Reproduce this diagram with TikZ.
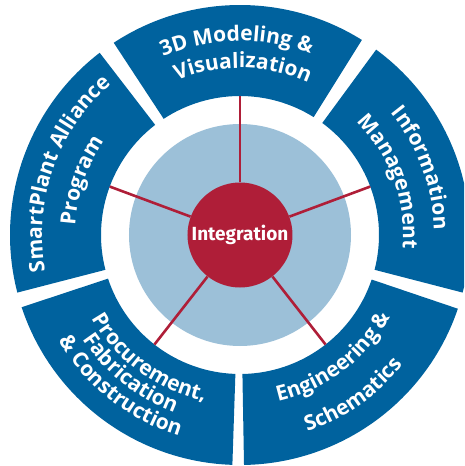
\documentclass[tikz,border=0pt]{standalone}
\usepackage{fontspec}
\setmainfont{Open Sans}
\newfontfamily\hubfont{Fira Sans}
\usetikzlibrary{decorations.text}
\definecolor{ringblue}{RGB}{0,98,158}
\definecolor{discblue}{RGB}{156,192,216}
\definecolor{hubred}{RGB}{175,30,56}
\newcommand{\segfont}{\bfseries\fontsize{21}{21}\selectfont}

\begin{document}
\begin{tikzpicture}[x=1pt,y=1pt,
  seg/.style={fill=ringblue},
  spoke/.style={draw=hubred,line width=2.6pt},
  hub/.style={circle,fill=hubred,minimum size=105pt,inner sep=0pt,text=white,
    font=\hubfont\bfseries\fontsize{19}{19}\selectfont},
  seglabel/.style={decorate,decoration={text along path,text align=center,text color=white}}]
\clip (-240,-231) rectangle (224,235);
% ring segments
\fill[seg] (58:139) arc[start angle=58,end angle=123.3,radius=139] -- (123.3:230) arc[start angle=123.3,end angle=58,radius=230] -- cycle;
\fill[seg] (127.6:139) arc[start angle=127.6,end angle=194.5,radius=139] -- (194.5:230) arc[start angle=194.5,end angle=127.6,radius=230] -- cycle;
\fill[seg] (198.3:139) arc[start angle=198.3,end angle=268.1,radius=139] -- (268.1:230) arc[start angle=268.1,end angle=198.3,radius=230] -- cycle;
\fill[seg] (271:139) arc[start angle=271,end angle=341.3,radius=139] -- (341.3:230) arc[start angle=341.3,end angle=271,radius=230] -- cycle;
\fill[seg] (-14.5:139) arc[start angle=-14.5,end angle=53.7,radius=139] -- (53.7:230) arc[start angle=53.7,end angle=-14.5,radius=230] -- cycle;
% inner disc and hub
\fill[discblue] (0,0) circle (111);
\node[hub] (integ) at (0,0) {Integration};
\coordinate (c3d) at (90:139);
\coordinate (cinfo) at (20.4:139);
\coordinate (ceng) at (-52:139);
\coordinate (cproc) at (232:139);
\coordinate (csmart) at (159.6:139);
\draw[spoke] (integ) -- (c3d);
\draw[spoke] (integ) -- (cinfo);
\draw[spoke] (integ) -- (ceng);
\draw[spoke] (integ) -- (cproc);
\draw[spoke] (integ) -- (csmart);
% segment texts
\path[seglabel,decoration={text={|\segfont|3D Modeling {\&}}}] (151:194) arc[start angle=151,end angle=31,radius=194];
\path[seglabel,decoration={text={|\segfont|Visualization}}] (149:167) arc[start angle=149,end angle=29,radius=167];
\path[seglabel,decoration={text={|\segfont|SmartPlant Alliance}}] (220.5:198) arc[start angle=220.5,end angle=100.5,radius=198];
\path[seglabel,decoration={text={|\segfont|Program}}] (221:165) arc[start angle=221,end angle=101,radius=165];
\path[seglabel,decoration={text={|\segfont|Information}}] (80.3:194) arc[start angle=80.3,end angle=-39.7,radius=194];
\path[seglabel,decoration={text={|\segfont|Management}}] (79.8:163) arc[start angle=79.8,end angle=-40.2,radius=163];
\path[seglabel,decoration={text={|\segfont|Procurement,}}] (173.6:170) arc[start angle=173.6,end angle=293.6,radius=170];
\path[seglabel,decoration={text={|\segfont|Fabrication}}] (171.6:189) arc[start angle=171.6,end angle=291.6,radius=189];
\path[seglabel,decoration={text={|\segfont|{\&} Construction}}] (171.7:210) arc[start angle=171.7,end angle=291.7,radius=210];
\path[seglabel,decoration={text={|\segfont|Engineering {\&}}}] (-112.8:171) arc[start angle=-112.8,end angle=7.2,radius=171];
\path[seglabel,decoration={text={|\segfont|Schematics}}] (-114.8:208) arc[start angle=-114.8,end angle=5.2,radius=208];
\end{tikzpicture}
\end{document}
